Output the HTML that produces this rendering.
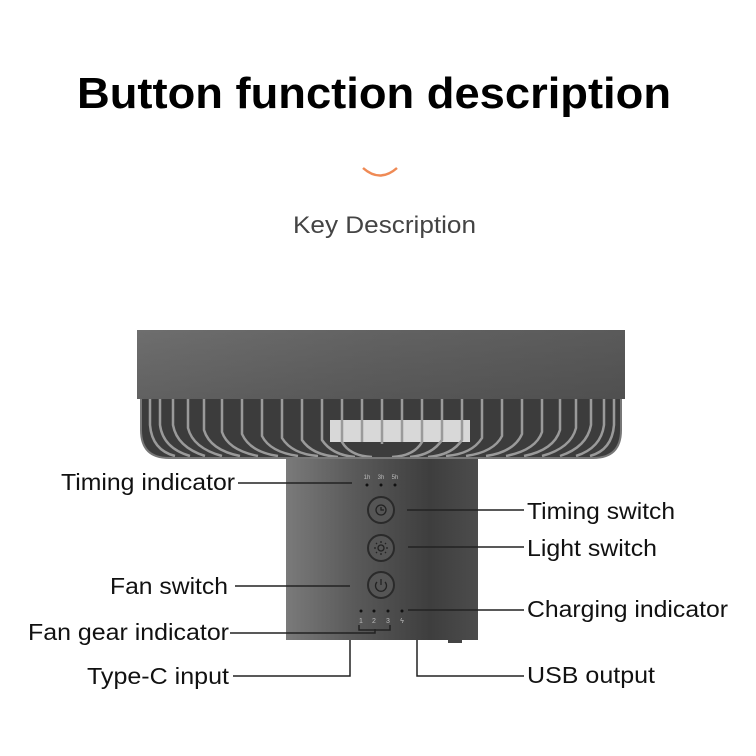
<!DOCTYPE html>
<html><head><meta charset="utf-8"><style>html,body{margin:0;padding:0;background:#fff}svg{display:block}</style></head>
<body>
<svg width="756" height="756" viewBox="0 0 756 756" xmlns="http://www.w3.org/2000/svg" font-family="Liberation Sans, Arial, sans-serif">
<defs>
<linearGradient id="top" x1="0" y1="0" x2="1" y2="0">
<stop offset="0" stop-color="#6e6e6e"/><stop offset="0.5" stop-color="#626262"/><stop offset="1" stop-color="#5a5a5a"/>
</linearGradient>
<linearGradient id="topv" x1="0" y1="0" x2="0" y2="1">
<stop offset="0" stop-color="#000" stop-opacity="0"/><stop offset="1" stop-color="#000" stop-opacity="0.12"/>
</linearGradient>
<linearGradient id="body" x1="0" y1="0" x2="1" y2="0">
<stop offset="0" stop-color="#7a7a7a"/><stop offset="0.35" stop-color="#5a5a5a"/><stop offset="0.75" stop-color="#3e3e3e"/><stop offset="1" stop-color="#4c4c4c"/>
</linearGradient>
<clipPath id="gc"><path d="M141 398 H621 V430 Q621 458 593 458 H169 Q141 458 141 430 Z"/></clipPath>
</defs>
<rect width="756" height="756" fill="#fff"/>
<text x="77" y="108" font-size="44" font-weight="bold" textLength="594" lengthAdjust="spacingAndGlyphs" fill="#000">Button function description</text>
<path d="M363 168 Q380 183 397 168" stroke="#ef8a55" stroke-width="2.5" fill="none"/>
<text x="293" y="233" font-size="24" textLength="183" lengthAdjust="spacingAndGlyphs" fill="#444">Key Description</text>

<rect x="286" y="450" width="192" height="190" fill="url(#body)"/>
<g clip-path="url(#gc)">
<rect x="141" y="398" width="480" height="60" fill="#3c3c3c"/>
<rect x="330" y="420" width="140" height="22" fill="#d8d8d8"/>
<g stroke="#9a9a9a" stroke-width="2.5" fill="none">
<path d="M150 398 V425 Q152 450 175 456"/><path d="M160 398 V425 Q163 448 190 456"/>
<path d="M173 398 V425 Q177 447 205 456"/><path d="M188 398 V428 Q193 448 222 456"/>
<path d="M204 398 V430 Q210 450 240 456"/><path d="M222 398 V432 Q228 450 258 456"/>
<path d="M242 398 V434 Q250 452 278 456"/><path d="M262 398 V436 Q270 452 298 456"/>
<path d="M282 398 V438 Q292 454 318 456"/><path d="M302 398 V440 Q312 455 338 457"/>
<path d="M322 398 V440 Q332 455 355 457"/><path d="M342 398 V442 Q350 456 372 457"/>
<path d="M362 398 V442"/><path d="M382 398 V444"/><path d="M402 398 V442"/>
<path d="M422 398 V442 Q414 456 392 457"/><path d="M442 398 V440 Q432 455 410 457"/>
<path d="M462 398 V440 Q452 455 428 457"/><path d="M482 398 V438 Q472 454 446 456"/>
<path d="M502 398 V436 Q494 452 466 456"/><path d="M522 398 V434 Q514 452 486 456"/>
<path d="M542 398 V432 Q536 450 506 456"/><path d="M560 398 V430 Q554 450 524 456"/>
<path d="M576 398 V428 Q571 448 542 456"/><path d="M591 398 V425 Q587 447 560 456"/>
<path d="M604 398 V425 Q601 448 576 456"/><path d="M614 398 V425 Q612 450 590 456"/>
</g>
</g>
<path d="M141 398 H621 V430 Q621 458 593 458 H169 Q141 458 141 430 Z" fill="none" stroke="#777" stroke-width="2"/>
<rect x="137" y="330" width="488" height="69" fill="url(#top)"/>
<rect x="137" y="330" width="488" height="69" fill="url(#topv)"/>

<g fill="#bbb" font-size="6" text-anchor="middle"><text x="367" y="479">1h</text><text x="381" y="479">3h</text><text x="395" y="479">5h</text></g>
<g fill="#111"><circle cx="367" cy="485" r="1.5"/><circle cx="381" cy="485" r="1.5"/><circle cx="395" cy="485" r="1.5"/>
<circle cx="361" cy="611" r="1.5"/><circle cx="374" cy="611" r="1.5"/><circle cx="388" cy="611" r="1.5"/><circle cx="402" cy="611" r="1.5"/></g>
<g fill="#bbb" font-size="7" text-anchor="middle"><text x="361" y="623">1</text><text x="374" y="623">2</text><text x="388" y="623">3</text><text x="402" y="623">ϟ</text></g>
<g stroke="#2a2a2a" stroke-width="2" fill="#555">
<circle cx="381" cy="510" r="13"/><circle cx="381" cy="548" r="13"/><circle cx="381" cy="585" r="13"/></g>
<g stroke="#222" stroke-width="1.3" fill="none">
<circle cx="381" cy="510" r="5"/><path d="M381 507 V510 H384"/>
<circle cx="381" cy="548" r="3"/><path d="M381 541 V543 M381 553 V555 M374 548 H376 M386 548 H388 M376 543 L377 544 M385 552 L386 553 M376 553 L377 552 M385 544 L386 543"/>
<path d="M377 582 A5.5 5.5 0 1 0 385 582 M381 579 V585"/>
</g>
<rect x="448" y="640" width="14" height="3" fill="#444"/>

<g stroke="#222" stroke-width="1.5" fill="none">
<path d="M238 483 H352"/>
<path d="M407 510 H524"/>
<path d="M408 547 H524"/>
<path d="M235 586 H350"/>
<path d="M408 610 H524"/>
<path d="M230 633 H375 V629 M359 625 V630 H390 V625"/>
<path d="M350 640 V676 H233"/>
<path d="M417 640 V676 H524"/>
</g>

<g font-size="23" fill="#111" lengthAdjust="spacingAndGlyphs">
<text x="61" y="490" textLength="174" lengthAdjust="spacingAndGlyphs">Timing indicator</text>
<text x="110" y="594" textLength="118" lengthAdjust="spacingAndGlyphs">Fan switch</text>
<text x="28" y="640" textLength="201" lengthAdjust="spacingAndGlyphs">Fan gear indicator</text>
<text x="87" y="684" textLength="142" lengthAdjust="spacingAndGlyphs">Type-C input</text>
<text x="527" y="519" textLength="148" lengthAdjust="spacingAndGlyphs">Timing switch</text>
<text x="527" y="556" textLength="130" lengthAdjust="spacingAndGlyphs">Light switch</text>
<text x="527" y="617" textLength="201" lengthAdjust="spacingAndGlyphs">Charging indicator</text>
<text x="527" y="683" textLength="128" lengthAdjust="spacingAndGlyphs">USB output</text>
</g>
</svg>
</body></html>
